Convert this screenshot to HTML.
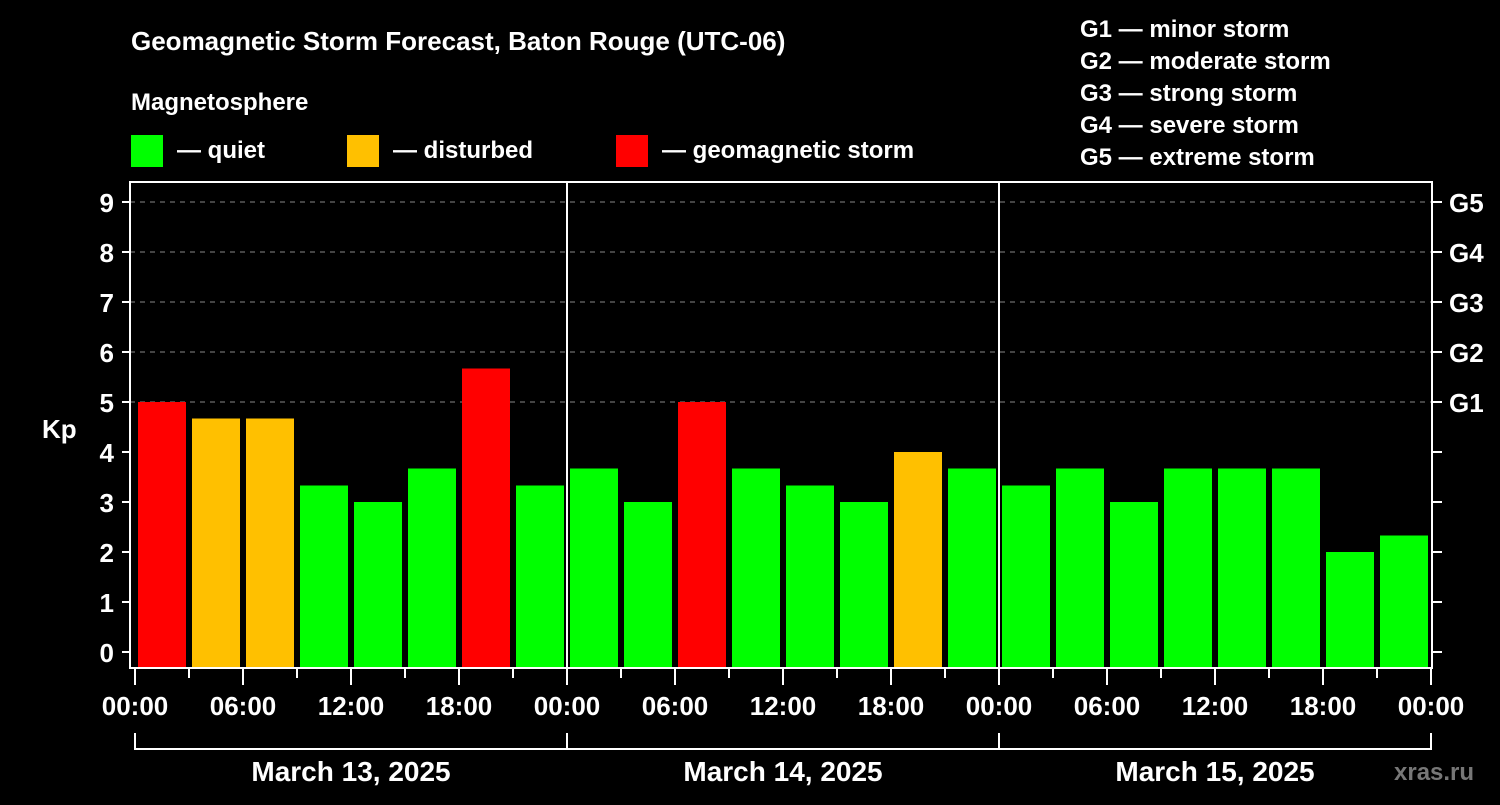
<!DOCTYPE html>
<html><head><meta charset="utf-8"><style>
body{margin:0;background:#000;}
svg text{font-family:"Liberation Sans",sans-serif;font-weight:bold;fill:#fff;}
</style></head><body>
<svg id="chart" width="1500" height="800" viewBox="0 0 1500 800" xmlns="http://www.w3.org/2000/svg">
<rect width="1500" height="800" fill="#000"/>
<text x="131" y="50" font-size="26">Geomagnetic Storm Forecast, Baton Rouge (UTC-06)</text>
<text x="131" y="110" font-size="24">Magnetosphere</text>
<rect x="131" y="135" width="32" height="32" fill="#00ff00"/>
<text x="177" y="158" font-size="24">— quiet</text>
<rect x="347" y="135" width="32" height="32" fill="#ffc000"/>
<text x="393" y="158" font-size="24">— disturbed</text>
<rect x="616" y="135" width="32" height="32" fill="#ff0000"/>
<text x="662" y="158" font-size="24">— geomagnetic storm</text>
<g font-size="24">
<text x="1080" y="37">G1 — minor storm</text>
<text x="1080" y="69">G2 — moderate storm</text>
<text x="1080" y="101">G3 — strong storm</text>
<text x="1080" y="133">G4 — severe storm</text>
<text x="1080" y="165">G5 — extreme storm</text>
</g>
<text x="42" y="438" font-size="26">Kp</text>
<g id="grid"></g><g id="bars"></g><g id="axes"></g>
<text x="1394" y="780" font-size="24" style="fill:#777">xras.ru</text>
</svg>
<script>
const kpValues=[5,4.67,4.67,3.33,3,3.67,5.67,3.33,3.67,3,5,3.67,3.33,3,4,3.67,3.33,3.67,3,3.67,3.67,3.67,2,2.33];
const yTicks=[0,1,2,3,4,5,6,7,8,9];
const gLabels=["G1","G2","G3","G4","G5"];
const timeLabels=["00:00","06:00","12:00","18:00","00:00","06:00","12:00","18:00","00:00","06:00","12:00","18:00","00:00"];
const dateLabels=["March 13, 2025","March 14, 2025","March 15, 2025"];
const NS="http://www.w3.org/2000/svg";
const X0=135,SLOT=54,Y0=652,UNIT=50,TOP=182,BOT=668,LEFT=130,RIGHT=1432;
const xs=i=>X0+i*SLOT, ys=v=>Y0-v*UNIT;
function mk(p,t,a){const e=document.createElementNS(NS,t);for(const k in a)e.setAttribute(k,a[k]);p.appendChild(e);return e;}
const grid=document.getElementById('grid'),bars=document.getElementById('bars'),axes=document.getElementById('axes');
yTicks.forEach(v=>{if(v>=5){const l=mk(grid,'line',{x1:LEFT,x2:RIGHT,y1:ys(v),y2:ys(v),stroke:'#888','stroke-dasharray':'5,5','stroke-width':1});

}
const t=mk(axes,'line',{x1:122,x2:LEFT,y1:ys(v),y2:ys(v),stroke:'#fff','stroke-width':2});


const r=mk(axes,'line',{x1:RIGHT,x2:1442,y1:ys(v),y2:ys(v),stroke:'#fff','stroke-width':2});


const tx=mk(axes,'text',{x:114,y:ys(v)+10,'font-size':26,'text-anchor':'end'});tx.textContent=v;

});
gLabels.forEach((g,i)=>{const t=mk(axes,'text',{x:1449,y:ys(5+i)+10,'font-size':26});t.textContent=g;

});
kpValues.forEach((v,i)=>{const c=v>=5?'#ff0000':(v>=4?'#ffc000':'#00ff00');
const b=mk(bars,'rect',{x:xs(i)+3,y:ys(v),width:48,height:BOT-ys(v),fill:c});

});
const fr=mk(axes,'rect',{x:LEFT,y:TOP,width:RIGHT-LEFT,height:BOT-TOP,fill:'none',stroke:'#fff','stroke-width':2});


[8,16].forEach(i=>{const l=mk(axes,'line',{x1:xs(i),x2:xs(i),y1:TOP,y2:BOT,stroke:'#fff','stroke-width':2});

});
for(let i=0;i<=24;i++){const l=mk(axes,'line',{x1:xs(i),x2:xs(i),y1:BOT,y2:i%2?678:685,stroke:'#fff','stroke-width':2});

}
timeLabels.forEach((s,i)=>{const t=mk(axes,'text',{x:xs(i*2),y:715,'font-size':26,'text-anchor':'middle'});t.textContent=s;

});
const br=mk(axes,'line',{x1:xs(0),x2:xs(24),y1:749,y2:749,stroke:'#fff','stroke-width':2});


[0,8,16,24].forEach(i=>{const l=mk(axes,'line',{x1:xs(i),x2:xs(i),y1:733,y2:750,stroke:'#fff','stroke-width':2});

});
dateLabels.forEach((s,i)=>{const t=mk(axes,'text',{x:xs(i*8+4),y:781,'font-size':28,'text-anchor':'middle'});t.textContent=s;

});
</script>
</body></html>
